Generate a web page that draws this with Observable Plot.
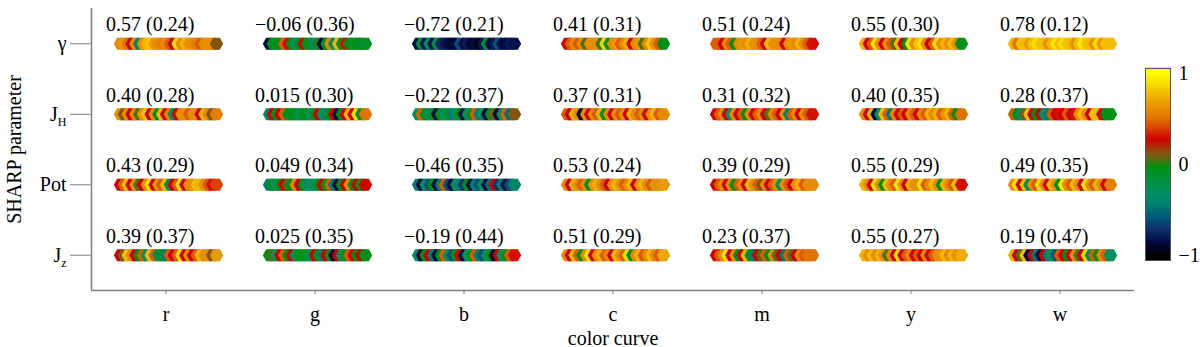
<!DOCTYPE html>
<html>
<head>
<meta charset="utf-8">
<script src="https://cdn.jsdelivr.net/npm/d3@7"></script>
<script src="https://cdn.jsdelivr.net/npm/@observablehq/plot@0.6"></script>
<style>
  html, body { margin: 0; padding: 0; background: #fff; }
  #wrap { position: relative; width: 1200px; height: 347px; }
  #wrap svg { position: absolute; left: 0; top: 0; }
  #wrap svg text { font-family: "Liberation Serif", "Times New Roman", serif; }
</style>
</head>
<body>
<div id="wrap"></div>
<script>
// ---------------- data ----------------
const curves = ["r", "g", "b", "c", "m", "y", "w"];
const params = ["γ", "J_H", "Pot", "J_z"];

// "mean (std)" labels per SHARP parameter row, one per color curve
const labelsGamma = ["0.57 (0.24)", "−0.06 (0.36)", "−0.72 (0.21)", "0.41 (0.31)", "0.51 (0.24)", "0.55 (0.30)", "0.78 (0.12)"];
const labelsJH    = ["0.40 (0.28)", "0.015 (0.30)", "−0.22 (0.37)", "0.37 (0.31)", "0.31 (0.32)", "0.40 (0.35)", "0.28 (0.37)"];
const labelsPot   = ["0.43 (0.29)", "0.049 (0.34)", "−0.46 (0.35)", "0.53 (0.24)", "0.39 (0.29)", "0.55 (0.29)", "0.49 (0.35)"];
const labelsJz    = ["0.39 (0.37)", "0.025 (0.35)", "−0.19 (0.44)", "0.51 (0.29)", "0.23 (0.37)", "0.55 (0.27)", "0.19 (0.47)"];

// individual correlation values (one marker each), per color curve r,g,b,c,m,y,w
const valuesGamma = [
  [0.6,0.65,0.5,0.25,0.6,-0.4,0.62,0.75,0.8,0.65,0.6,0.55,0.6,0.45,0.25,0.9,0.6,0.75,0.62,0.6,0.55,0.45,0.6,0.62,0.6,0.12],
  [-0.85,-0.05,-0.1,-0.08,0.45,0.25,-0.05,-0.3,-0.1,0.25,-0.05,-0.1,-0.35,0.0,-0.85,-0.1,0.6,-0.35,0.75,-0.05,0.3,-0.05,-0.1,-0.05,-0.08,-0.1],
  [-0.85,-0.15,-0.8,-0.35,-0.85,-0.2,-0.75,-0.8,-0.85,-0.9,-0.85,-0.6,-0.85,-0.8,-0.9,-0.85,-0.95,-0.8,-0.15,-0.85,-0.8,-0.6,-0.85,-0.85,-0.8,-0.82],
  [0.25,0.45,0.6,0.45,0.6,0.04,0.6,0.62,0.6,0.0,0.85,-0.05,0.6,0.65,0.45,0.6,0.75,0.27,0.6,0.65,0.04,0.6,0.8,0.62,0.45,-0.05],
  [0.45,0.45,0.27,0.6,0.45,-0.05,0.6,0.65,0.6,0.75,0.62,0.6,0.45,0.27,0.78,0.6,0.62,0.6,0.27,0.6,0.65,0.6,0.75,0.6,0.45,0.3],
  [0.75,0.27,0.45,0.9,0.6,0.27,0.62,0.45,0.04,0.78,0.27,-0.05,0.9,0.62,0.78,0.9,0.6,0.27,0.45,0.9,0.62,0.75,0.62,0.78,0.6,-0.05],
  [0.75,0.5,0.8,0.78,0.65,0.8,0.9,0.8,0.78,0.62,0.78,0.92,0.8,0.9,0.8,0.78,0.62,0.8,0.92,0.8,0.78,0.62,0.9,0.65,0.8,0.78]
];
const valuesJH = [
  [0.6,0.12,0.6,0.27,0.6,0.04,0.62,0.78,0.27,0.6,-0.05,0.78,0.27,0.55,-0.3,0.27,0.6,0.62,0.45,0.6,0.6,0.27,0.75,0.6,0.12,0.55],
  [-0.4,0.27,-0.05,0.27,0.45,-0.05,-0.08,-0.05,-0.3,-0.05,-0.1,-0.3,-0.05,0.27,-0.3,-0.35,-0.05,0.27,-0.85,-0.05,0.27,0.75,0.27,0.9,-0.05,0.5],
  [-0.3,0.45,-0.05,-0.35,-0.08,-0.85,-0.05,-0.3,-0.1,-0.45,-0.3,-0.05,-0.85,-0.35,-0.05,0.45,-0.45,-0.3,-0.85,-0.05,0.1,-0.85,-0.3,0.45,-0.5,0.12],
  [0.45,0.27,0.75,0.6,-0.85,0.6,0.27,0.6,0.45,0.75,-0.05,0.6,0.27,0.6,0.45,0.62,0.27,0.75,0.6,0.45,0.6,0.27,0.6,0.75,0.45,0.6],
  [0.27,0.45,0.6,0.27,-0.3,0.6,0.27,0.45,-0.05,0.6,0.27,0.45,0.6,0.27,0.04,0.6,0.45,0.27,0.6,-0.4,0.45,0.6,0.27,0.6,0.45,0.3],
  [0.6,0.27,0.75,-0.85,-0.3,0.78,0.45,-0.45,0.6,0.27,0.45,0.27,0.6,0.45,0.27,0.6,0.45,0.75,0.6,0.75,0.45,0.6,0.75,0.45,-0.05,0.5],
  [0.45,-0.05,-0.3,0.12,0.78,0.27,-0.05,0.27,-0.3,-0.45,0.45,0.27,0.3,0.27,0.45,0.27,0.3,0.6,0.78,0.6,0.27,0.8,0.78,0.27,-0.05,-0.05]
];
const valuesPot = [
  [0.27,0.45,0.78,0.27,0.6,0.04,0.27,0.6,0.9,0.27,0.62,0.45,0.78,-0.3,0.27,0.45,0.9,0.27,0.6,0.62,0.78,0.75,0.6,0.45,0.3,0.4],
  [-0.45,-0.05,-0.3,-0.05,0.27,0.04,-0.05,0.6,0.27,-0.05,-0.3,-0.35,-0.3,-0.05,0.27,-0.05,0.45,-0.45,-0.85,-0.05,0.27,0.6,-0.05,0.27,-0.05,0.27],
  [-0.45,-0.85,-0.3,-0.6,-0.05,-0.85,-0.45,0.45,-0.6,-0.85,-0.3,-0.45,-0.72,-0.05,-0.85,-0.45,-0.6,-0.3,-0.85,-0.5,0.27,-0.72,-0.45,-0.85,-0.6,-0.4],
  [0.6,0.27,0.75,0.6,0.45,0.6,-0.05,0.62,0.75,0.6,0.45,0.27,0.6,0.75,0.62,0.45,0.6,0.78,0.27,0.6,0.75,0.6,0.45,0.62,0.6,0.65],
  [0.27,0.45,0.6,0.27,0.6,-0.05,0.45,0.6,0.27,0.75,0.6,0.45,0.12,0.6,0.27,0.45,0.6,-0.3,0.6,0.45,0.27,0.6,0.75,0.45,0.6,0.6],
  [0.75,0.6,0.27,0.9,0.6,-0.05,0.78,0.6,0.45,0.9,0.6,0.27,0.75,0.62,0.6,0.9,0.45,0.6,0.78,0.6,-0.05,0.75,0.6,0.45,0.78,0.3],
  [0.6,0.9,0.27,0.78,-0.3,0.6,0.45,0.9,0.6,0.27,0.78,0.6,-0.05,0.9,0.6,0.45,0.78,0.6,0.27,0.9,0.6,0.45,0.75,0.6,0.27,0.55]
];
const valuesJz = [
  [0.27,0.1,0.78,0.6,0.27,-0.05,0.45,-0.3,0.78,0.45,-0.3,-0.05,-0.45,0.45,0.27,0.45,0.9,0.27,0.6,0.27,0.45,0.78,0.6,0.62,0.12,0.65],
  [-0.05,0.04,-0.3,0.27,0.45,-0.05,0.27,-0.3,-0.05,-0.05,-0.1,-0.3,0.27,-0.05,-0.45,0.27,-0.05,-0.85,0.27,-0.3,-0.05,0.45,0.27,-0.05,0.27,-0.05],
  [-0.3,-0.85,-0.05,0.27,-0.45,-0.85,-0.05,0.45,-0.3,-0.6,-0.05,0.27,-0.85,-0.3,-0.05,0.45,-0.45,-0.6,-0.3,-0.05,-0.85,0.27,-0.3,-0.05,0.45,0.3],
  [0.6,0.27,0.78,0.45,-0.05,0.6,0.9,0.27,0.6,0.75,0.45,0.6,0.27,0.78,0.6,0.45,0.9,-0.05,0.6,0.75,0.45,0.6,0.78,0.6,0.45,0.7],
  [0.27,0.45,0.6,0.9,0.27,0.6,-0.05,0.27,0.78,-0.05,-0.45,0.27,0.04,0.45,-0.05,0.6,0.04,0.27,-0.45,0.45,0.04,0.27,0.6,0.45,0.5,0.5],
  [0.75,0.6,0.78,0.6,0.75,0.6,0.04,0.6,0.27,0.9,0.27,0.45,0.6,0.27,0.45,0.27,0.6,0.27,0.45,0.6,0.62,0.78,0.6,0.75,0.62,0.72],
  [0.75,0.27,0.04,0.78,-0.85,0.27,-0.45,-0.85,0.27,-0.45,-0.3,-0.6,0.45,0.27,-0.05,0.27,0.6,0.04,0.27,0.9,-0.3,0.45,-0.05,0.6,0.45,-0.3]
];

// colormap stops (value -> colour)
const cmapStops  = [-1.0, -0.86, -0.72, -0.58, -0.44, -0.31, -0.03, 0.04, 0.13, 0.27, 0.49, 0.74, 1.0];
const cmapColors = ["#000000", "#000840", "#103068", "#005878", "#008070", "#009060", "#009010", "#507010", "#8a5010", "#d00000", "#e07000", "#f0b000", "#ffff00"];
const colorbarTicks = [-1, 0, 1];

// ---------------- build ----------------
const allValues = [valuesGamma, valuesJH, valuesPot, valuesJz];
const allLabels = [labelsGamma, labelsJH, labelsPot, labelsJz];

const markers = [];
allValues.forEach((rowVals, row) => rowVals.forEach((vals, col) => vals.forEach((v, i) => {
  markers.push({row, col, i, n: vals.length, v});
})));
const cells = [];
allLabels.forEach((rowLabels, row) => rowLabels.forEach((label, col) => cells.push({row, col, label})));

const cmap = d3.scaleLinear().domain(cmapStops).range(cmapColors).interpolate(d3.interpolateRgb).clamp(true);
const colorScale = {type: "linear", domain: [-1, 1], interpolate: t => cmap(-1 + 2 * t), clamp: true};

// horizontal hexagon symbol (pointy left/right)
const hexH = {
  draw(ctx, size) {
    const h = Math.sqrt(size / Math.PI);
    const w = h * 1.12;
    ctx.moveTo(-w, 0);
    ctx.lineTo(-w / 2, -h);
    ctx.lineTo(w / 2, -h);
    ctx.lineTo(w, 0);
    ctx.lineTo(w / 2, h);
    ctx.lineTo(-w / 2, h);
    ctx.closePath();
  }
};

const FONT = "Liberation Serif, Times New Roman, serif";
const GRAY = "#7f7f7f";
const stripShift = 0.017, stripHalf = 0.322;

const main = Plot.plot({
  width: 1200, height: 347,
  marginLeft: 91, marginRight: 66, marginTop: 8, marginBottom: 57,
  style: {fontFamily: FONT, fontSize: "20px", background: "white", color: "black"},
  x: {domain: [-0.5, 6.5], axis: null},
  y: {domain: [-0.5, 3.5], reverse: true, axis: null},
  color: colorScale,
  marks: [
    Plot.ruleX([-0.5], {stroke: GRAY, strokeWidth: 1.5}),
    Plot.ruleY([3.5], {stroke: GRAY, strokeWidth: 1.5}),
    Plot.axisX({ticks: d3.range(curves.length), tickFormat: i => curves[i], tickSize: 4, tickPadding: 12,
                stroke: GRAY, fill: "black", fontSize: 20, fontFamily: FONT, label: null}),
    Plot.axisY({ticks: d3.range(params.length), tickFormat: i => params[i], tickSize: 21, tickPadding: 4,
                stroke: GRAY, fill: "black", fontSize: 20, fontFamily: FONT, label: null}),
    Plot.text(["SHARP parameter"], {frameAnchor: "left", dx: -77, rotate: -90, textAnchor: "middle", lineAnchor: "middle",
                text: d => d, fontSize: 20, fontFamily: FONT, fill: "black"}),
    Plot.text(["color curve"], {frameAnchor: "bottom", dy: 54, lineAnchor: "bottom", textAnchor: "middle",
                text: d => d, fontSize: 20, fontFamily: FONT, fill: "black"}),
    Plot.dot(markers, {
      x: d => d.col + stripShift + (d.i / (d.n - 1) - 0.5) * 2 * stripHalf,
      y: "row", fill: "v", r: 6, symbol: hexH, stroke: "none"
    }),
    Plot.text(cells, {x: "col", y: "row", text: "label", dx: -60, dy: -19, textAnchor: "start",
                fontSize: 20, fontFamily: FONT, fill: "black"})
  ]
});

// subscripts in the y tick labels (J_H, J_z)
d3.select(main).selectAll("g[aria-label='y-axis tick label'] text").each(function () {
  const t = this.textContent;
  if (t.includes("_")) {
    const [a, b] = t.split("_");
    this.textContent = a;
    d3.select(this).append("tspan").attr("dy", "5").attr("font-size", "12px").text(b);
  }
});

// vertical colour bar
const ramp = d3.range(-1.06, 1.06, 0.01).map(v => ({y1: v, y2: v + 0.0105, v: v + 0.005}));
const bar = Plot.plot({
  width: 1200, height: 347,
  marginLeft: 1145, marginRight: 30, marginTop: 68, marginBottom: 87,
  style: {fontFamily: FONT, fontSize: "20px", background: "transparent", color: "black", pointerEvents: "none"},
  x: {domain: [0, 1], axis: null},
  y: {domain: [-1.055, 1.055], axis: null},
  color: colorScale,
  marks: [
    Plot.rect(ramp, {x1: 0, x2: 1, y1: "y1", y2: "y2", fill: "v", shapeRendering: "crispEdges"}),
    Plot.frame({stroke: "#505560", strokeWidth: 1}),
    Plot.axisY({anchor: "right", ticks: colorbarTicks, tickSize: 0, tickPadding: 8,
                tickFormat: d => d < 0 ? "−" + Math.abs(d) : String(d), fontSize: 20, fontFamily: FONT, fill: "black", label: null})
  ]
});

const wrap = document.getElementById("wrap");
wrap.appendChild(main);
wrap.appendChild(bar);
</script>
</body>
</html>
